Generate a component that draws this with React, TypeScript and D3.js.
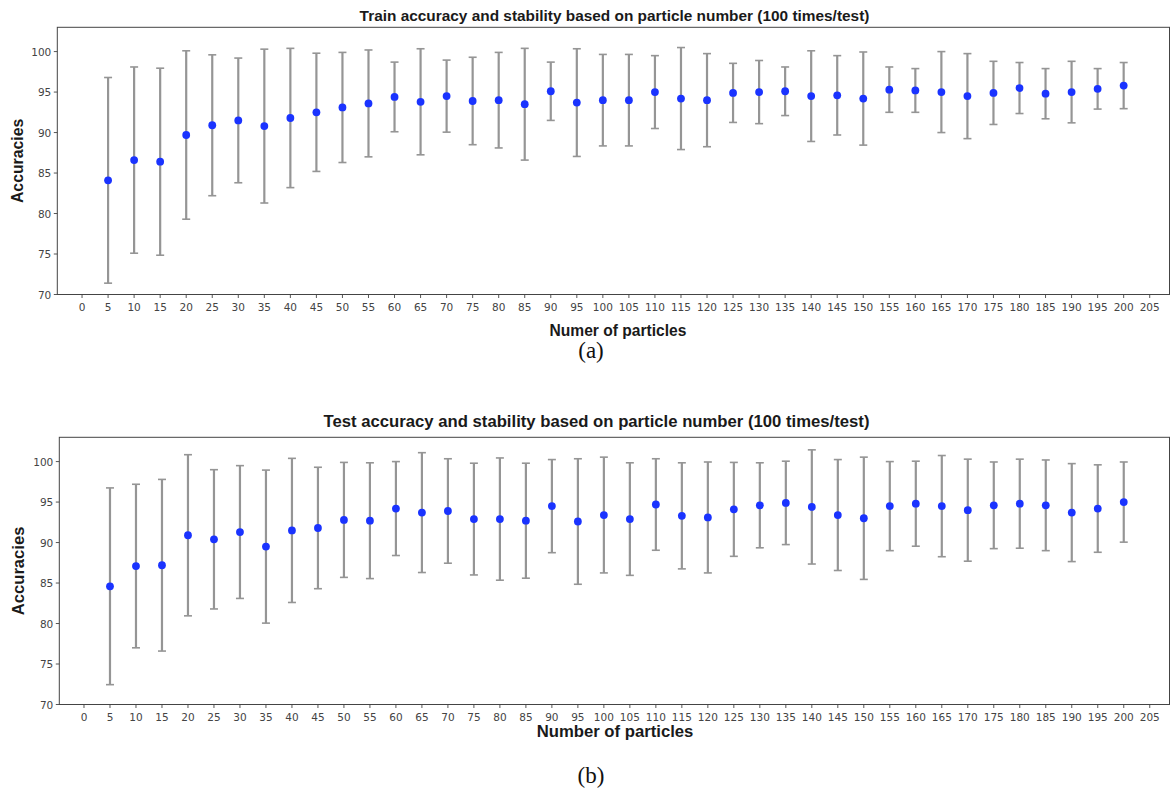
import React from "react";
import * as d3 from "d3";

// Number of particles used in each run
const particles = [
  5, 10, 15, 20, 25, 30, 35, 40, 45, 50, 55, 60, 65, 70, 75, 80, 85, 90, 95, 100,
  105, 110, 115, 120, 125, 130, 135, 140, 145, 150, 155, 160, 165, 170, 175, 180,
  185, 190, 195, 200,
];

// Train accuracy: mean over 100 runs and its spread (error bar half-width)
const trainMean = [
  84.1, 86.6, 86.4, 89.7, 90.9, 91.5, 90.8, 91.8, 92.5, 93.1, 93.6, 94.4, 93.8, 94.5,
  93.9, 94.0, 93.5, 95.1, 93.7, 94.0, 94.0, 95.0, 94.2, 94.0, 94.9, 95.0, 95.1, 94.5,
  94.6, 94.2, 95.3, 95.2, 95.0, 94.5, 94.9, 95.5, 94.8, 95.0, 95.4, 95.8,
];
const trainErr = [
  12.7, 11.5, 11.55, 10.4, 8.7, 7.7, 9.5, 8.6, 7.3, 6.8, 6.6, 4.3, 6.55, 4.45, 5.4,
  5.9, 6.9, 3.6, 6.65, 5.65, 5.65, 4.5, 6.3, 5.75, 3.65, 3.9, 3.0, 5.6, 4.9, 5.75,
  2.8, 2.7, 5.0, 5.25, 3.9, 3.15, 3.1, 3.8, 2.5, 2.85,
];

// Test accuracy: mean over 100 runs and its spread
const testMean = [
  84.6, 87.1, 87.2, 90.9, 90.4, 91.3, 89.5, 91.5, 91.8, 92.8, 92.7, 94.2, 93.7, 93.9,
  92.9, 92.9, 92.7, 94.5, 92.6, 93.4, 92.9, 94.7, 93.3, 93.1, 94.1, 94.6, 94.9, 94.4,
  93.4, 93.0, 94.5, 94.8, 94.5, 94.0, 94.6, 94.8, 94.6, 93.7, 94.2, 95.0,
];
const testErr = [
  12.15, 10.1, 10.6, 9.95, 8.6, 8.2, 9.45, 8.9, 7.5, 7.1, 7.15, 5.8, 7.4, 6.45, 6.9,
  7.55, 7.1, 5.75, 7.75, 7.15, 6.95, 5.65, 6.55, 6.85, 5.8, 5.25, 5.15, 7.05, 6.85,
  7.55, 5.5, 5.25, 6.25, 6.3, 5.35, 5.5, 5.6, 6.05, 5.4, 4.95,
];

const xTicks = d3.range(0, 210, 5);
const yTicks = [70, 75, 80, 85, 90, 95, 100];

const X_DOMAIN: [number, number] = [-4.75, 208.8];
const Y_DOMAIN: [number, number] = [70, 103];

type PanelProps = {
  title: string;
  xLabel: string;
  caption: string;
  means: number[];
  errs: number[];
  left: number;
  right: number;
  top: number;
  bottom: number;
  titleX: number;
  titleY: number;
  titleSize: number;
  xLabelX: number;
  xLabelY: number;
  xLabelSize: number;
  yLabelX: number;
  yLabelSize: number;
  captionY: number;
};

const TICK_FONT = "'DejaVu Sans', sans-serif";
const LABEL_FONT = "'Liberation Sans', Arial, sans-serif";

function Panel(p: PanelProps) {
  const x = d3.scaleLinear().domain(X_DOMAIN).range([p.left, p.right]);
  const y = d3.scaleLinear().domain(Y_DOMAIN).range([p.bottom, p.top]);
  const capHalf = 4;

  return (
    <g>
      <text
        x={p.titleX}
        y={p.titleY}
        textAnchor="middle"
        dominantBaseline="central"
        fontFamily={LABEL_FONT}
        fontWeight="bold"
        fontSize={p.titleSize}
        fill="#1a1a1a"
      >
        {p.title}
      </text>

      {/* error bars */}
      {particles.map((n, i) => {
        const px = x(n);
        const y1 = y(p.means[i] + p.errs[i]);
        const y2 = y(p.means[i] - p.errs[i]);
        return (
          <g key={"e" + n} stroke="#959595">
            <line x1={px} x2={px} y1={y1} y2={y2} strokeWidth={2.2} />
            <line x1={px - capHalf} x2={px + capHalf} y1={y1} y2={y1} strokeWidth={1.6} />
            <line x1={px - capHalf} x2={px + capHalf} y1={y2} y2={y2} strokeWidth={1.6} />
          </g>
        );
      })}

      {/* means */}
      {particles.map((n, i) => (
        <circle key={"m" + n} cx={x(n)} cy={y(p.means[i])} r={3.9} fill="#1a33ff" />
      ))}

      {/* frame */}
      <rect
        x={p.left}
        y={p.top}
        width={p.right - p.left}
        height={p.bottom - p.top}
        fill="none"
        stroke="#444"
        strokeWidth={1}
      />

      {/* x axis */}
      {xTicks.map((t) => (
        <g key={"xt" + t}>
          <line x1={x(t)} x2={x(t)} y1={p.bottom} y2={p.bottom + 3.5} stroke="#444" strokeWidth={0.9} />
          <text
            x={x(t)}
            y={p.bottom + 12}
            textAnchor="middle"
            dominantBaseline="central"
            fontFamily={TICK_FONT}
            fontSize={10.5}
            fill="#444"
          >
            {t}
          </text>
        </g>
      ))}

      {/* y axis */}
      {yTicks.map((t) => (
        <g key={"yt" + t}>
          <line x1={p.left - 3.5} x2={p.left} y1={y(t)} y2={y(t)} stroke="#444" strokeWidth={0.9} />
          <text
            x={p.left - 6}
            y={y(t)}
            textAnchor="end"
            dominantBaseline="central"
            fontFamily={TICK_FONT}
            fontSize={10.5}
            fill="#444"
          >
            {t}
          </text>
        </g>
      ))}

      <text
        x={p.xLabelX}
        y={p.xLabelY}
        textAnchor="middle"
        dominantBaseline="central"
        fontFamily={LABEL_FONT}
        fontWeight="bold"
        fontSize={p.xLabelSize}
        fill="#1a1a1a"
      >
        {p.xLabel}
      </text>

      <text
        transform={`translate(${p.yLabelX},${(p.top + p.bottom) / 2}) rotate(-90)`}
        textAnchor="middle"
        dominantBaseline="central"
        fontFamily={LABEL_FONT}
        fontWeight="bold"
        fontSize={p.yLabelSize}
        fill="#1a1a1a"
      >
        Accuracies
      </text>

      <text
        x={591}
        y={p.captionY}
        textAnchor="middle"
        dominantBaseline="central"
        fontFamily="'Liberation Serif', 'Times New Roman', serif"
        fontSize={23}
        fill="#111"
      >
        {p.caption}
      </text>
    </g>
  );
}

export default function App() {
  return (
    <svg
      width={1171}
      height={791}
      style={{ position: "absolute", left: 0, top: 0, background: "#fff" }}
    >
      <rect x={0} y={0} width={1171} height={791} fill="#fff" />
      <Panel
        title="Train accuracy and stability based on particle number (100 times/test)"
        xLabel="Numer of particles"
        caption="(a)"
        means={trainMean}
        errs={trainErr}
        left={57.3}
        right={1169.5}
        top={27.3}
        bottom={294.5}
        titleX={614.5}
        titleY={15}
        titleSize={15.4}
        xLabelX={618}
        xLabelY={330}
        xLabelSize={15.6}
        yLabelX={17}
        yLabelSize={15.8}
        captionY={350}
      />
      <Panel
        title="Test accuracy and stability based on particle number (100 times/test)"
        xLabel="Number of particles"
        caption="(b)"
        means={testMean}
        errs={testErr}
        left={59.3}
        right={1169.5}
        top={437.3}
        bottom={704.5}
        titleX={596.5}
        titleY={421.5}
        titleSize={16.7}
        xLabelX={615}
        xLabelY={731}
        xLabelSize={16.7}
        yLabelX={18}
        yLabelSize={16.6}
        captionY={775}
      />
    </svg>
  );
}
